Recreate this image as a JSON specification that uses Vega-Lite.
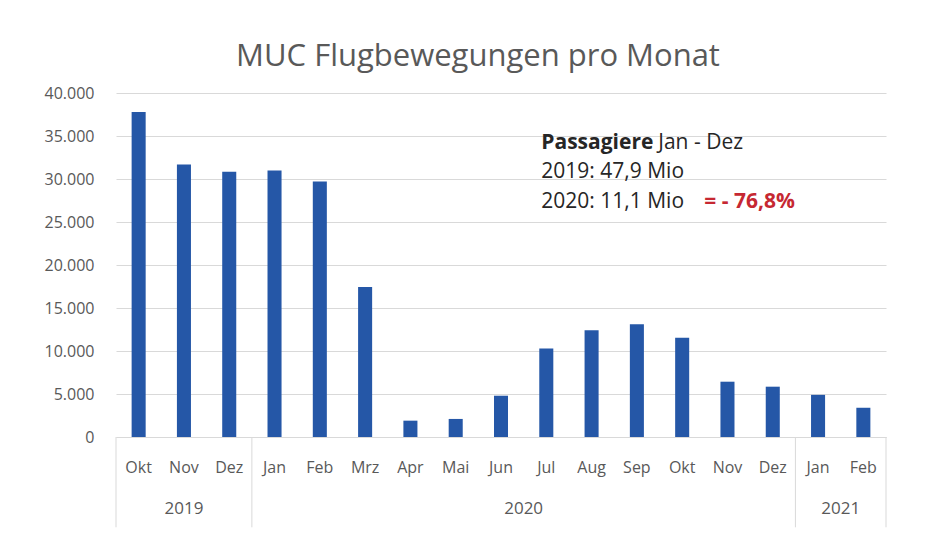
{
  "$schema": "https://vega.github.io/schema/vega-lite/v6.json",
  "autosize": "none",
  "width": 770,
  "height": 344,
  "padding": {"left": 116, "top": 93, "right": 45, "bottom": 102},
  "background": "white",
  "config": {
    "font": "Open Sans",
    "view": {"stroke": null},
    "text": {"font": "Open Sans"}
  },
  "title": {
    "text": "MUC Flugbewegungen pro Monat",
    "font": "Open Sans",
    "fontSize": 31,
    "fontWeight": "normal",
    "color": "#595959",
    "anchor": "middle",
    "dx": -23,
    "baseline": "alphabetic",
    "offset": -12
  },
  "datasets": {
    "months": [
      {"k": "Okt 19", "v": 37800},
      {"k": "Nov 19", "v": 31700},
      {"k": "Dez 19", "v": 30850},
      {"k": "Jan 20", "v": 31000},
      {"k": "Feb 20", "v": 29700},
      {"k": "Mrz 20", "v": 17450},
      {"k": "Apr 20", "v": 1900},
      {"k": "Mai 20", "v": 2100},
      {"k": "Jun 20", "v": 4800},
      {"k": "Jul 20", "v": 10300},
      {"k": "Aug 20", "v": 12400},
      {"k": "Sep 20", "v": 13100},
      {"k": "Okt 20", "v": 11550},
      {"k": "Nov 20", "v": 6430},
      {"k": "Dez 20", "v": 5850},
      {"k": "Jan 21", "v": 4900},
      {"k": "Feb 21", "v": 3400}
    ]
  },
  "layer": [
    {
      "data": {"name": "months"},
      "mark": {"type": "bar", "color": "#2557a7", "width": {"band": 0.31}},
      "encoding": {
        "x": {
          "field": "k",
          "type": "nominal",
          "sort": null,
          "scale": {
            "domain": ["Okt 19", "Nov 19", "Dez 19", "Jan 20", "Feb 20", "Mrz 20", "Apr 20", "Mai 20", "Jun 20", "Jul 20", "Aug 20", "Sep 20", "Okt 20", "Nov 20", "Dez 20", "Jan 21", "Feb 21"],
            "paddingInner": 0,
            "paddingOuter": 0
          },
          "axis": {
            "title": null,
            "labelExpr": "split(datum.value, ' ')[0]",
            "labelAngle": 0,
            "labelFontSize": 16,
            "labelColor": "#595959",
            "labelBaseline": "alphabetic",
            "labelPadding": 35,
            "ticks": false,
            "domain": true,
            "domainColor": "#d9d9d9",
            "domainWidth": 1,
            "grid": false
          }
        },
        "y": {
          "field": "v",
          "type": "quantitative",
          "scale": {"domain": [0, 40000], "nice": false},
          "axis": {
            "title": null,
            "values": [0, 5000, 10000, 15000, 20000, 25000, 30000, 35000, 40000],
            "labelExpr": "replace(format(datum.value, ','), ',', '.')",
            "labelFontSize": 16,
            "labelColor": "#595959",
            "labelPadding": 22,
            "ticks": false,
            "domain": false,
            "grid": true,
            "gridColor": "#d9d9d9",
            "gridWidth": 1
          }
        }
      }
    },
    {
      "data": {"values": [{"k": "Okt 19"}, {"k": "Jan 20"}, {"k": "Jan 21"}]},
      "mark": {"type": "rule", "color": "#d9d9d9", "strokeWidth": 1},
      "encoding": {
        "x": {"field": "k", "type": "nominal", "bandPosition": 0},
        "y": {"datum": 0},
        "y2": {"datum": -10500}
      }
    },
    {
      "data": {"values": [{"k": "Feb 21"}]},
      "mark": {"type": "rule", "color": "#d9d9d9", "strokeWidth": 1},
      "encoding": {
        "x": {"field": "k", "type": "nominal", "bandPosition": 1},
        "y": {"datum": 0},
        "y2": {"datum": -10500}
      }
    },
    {
      "data": {"values": [{"k": "Nov 19", "year": "2019"}]},
      "mark": {"type": "text", "fontSize": 17, "color": "#595959", "baseline": "alphabetic", "align": "center"},
      "encoding": {
        "x": {"field": "k", "type": "nominal", "bandPosition": 0.5},
        "y": {"datum": -8950},
        "text": {"field": "year"}
      }
    },
    {
      "data": {"values": [{"k": "Jun 20", "year": "2020"}, {"k": "Jan 21", "year": "2021"}]},
      "mark": {"type": "text", "fontSize": 17, "color": "#595959", "baseline": "alphabetic", "align": "center"},
      "encoding": {
        "x": {"field": "k", "type": "nominal", "bandPosition": 1},
        "y": {"datum": -8950},
        "text": {"field": "year"}
      }
    },
    {
      "data": {"values": [{"k": "Jul 20", "y": 33450, "t": "Passagiere"}]},
      "mark": {"type": "text", "fontSize": 21, "fontWeight": "bold", "color": "#262626", "baseline": "alphabetic", "align": "left", "dx": -5},
      "encoding": {
        "x": {"field": "k", "type": "nominal"},
        "y": {"field": "y", "type": "quantitative"},
        "text": {"field": "t"}
      }
    },
    {
      "data": {"values": [{"k": "Jul 20", "y": 33450, "t": "Jan - Dez"}]},
      "mark": {"type": "text", "fontSize": 21, "color": "#262626", "baseline": "alphabetic", "align": "left", "dx": 112},
      "encoding": {
        "x": {"field": "k", "type": "nominal"},
        "y": {"field": "y", "type": "quantitative"},
        "text": {"field": "t"}
      }
    },
    {
      "data": {"values": [{"k": "Jul 20", "y": 30100, "t": "2019: 47,9 Mio"}, {"k": "Jul 20", "y": 26600, "t": "2020: 11,1 Mio"}]},
      "mark": {"type": "text", "fontSize": 21, "color": "#262626", "baseline": "alphabetic", "align": "left", "dx": -5},
      "encoding": {
        "x": {"field": "k", "type": "nominal"},
        "y": {"field": "y", "type": "quantitative"},
        "text": {"field": "t"}
      }
    },
    {
      "data": {"values": [{"k": "Jul 20", "y": 26600, "t": "= - 76,8%"}]},
      "mark": {"type": "text", "fontSize": 21, "fontWeight": "bold", "color": "#c62832", "baseline": "alphabetic", "align": "left", "dx": 158},
      "encoding": {
        "x": {"field": "k", "type": "nominal"},
        "y": {"field": "y", "type": "quantitative"},
        "text": {"field": "t"}
      }
    }
  ]
}
